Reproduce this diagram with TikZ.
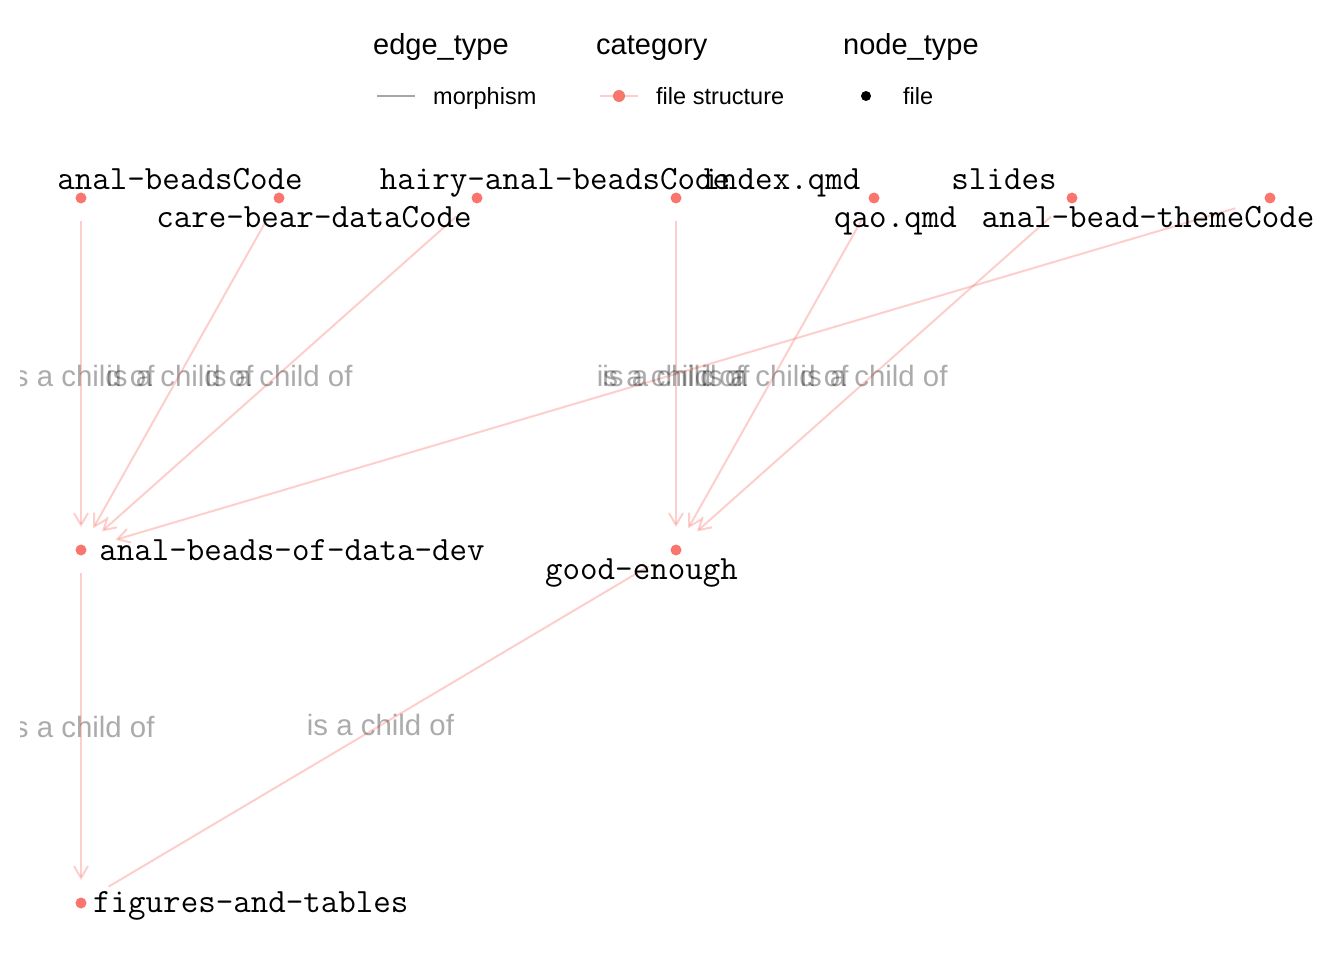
\documentclass[tikz,border=0pt]{standalone}
\usepackage{fontspec}
\setmainfont{Liberation Sans}
\usetikzlibrary{arrows.meta}
\definecolor{salmon}{HTML}{F8766D}
\begin{document}
\begin{tikzpicture}[x=1pt,y=-1pt,
  dot/.style={circle,fill=salmon,inner sep=0pt,minimum size=11pt},
  nlabel/.style={font=\ttfamily\fontsize{34}{40}\selectfont,inner sep=0pt,anchor=base},
  edge/.style={draw=salmon,draw opacity=0.35,line width=2pt,-{Straight Barb[length=12pt,width=14pt]}},
  elabel/.style={font=\fontsize{29.4}{35}\selectfont,text=black,text opacity=0.33,inner sep=0pt,anchor=base},
  ltitle/.style={font=\fontsize{29}{34}\selectfont,anchor=base west,inner sep=0pt},
  litem/.style={font=\fontsize{23.5}{28}\selectfont,anchor=base west,inner sep=0pt}]
\useasboundingbox (0,0) rectangle (1344,960);

% legend
\node[ltitle] (t1) at (373,55) {edge\_type};
\node[ltitle] (t2) at (596,55) {category};
\node[ltitle] (t3) at (843,55) {node\_type};
\coordinate (k1a) at (377,96);
\coordinate (k1b) at (415,96);
\draw[black!35,line width=2.5pt] (k1a) -- (k1b);
\node[litem] (i1) at (433,105) {morphism};
\coordinate (k2a) at (600,96);
\coordinate (k2b) at (638,96);
\draw[salmon,draw opacity=0.35,line width=2.5pt] (k2a) -- (k2b);
\node[dot,minimum size=12pt] (k2dot) at (619,96) {};
\node[circle,fill=black,inner sep=0pt,minimum size=10pt] (k3dot) at (866,96) {};
\node[litem] (i2) at (656,105) {file structure};
\node[litem] (i3) at (903,105) {file};

% dots
\node[dot] (abc) at (81,198) {};
\node[dot] (cbd) at (279,198) {};
\node[dot] (hab) at (477,198) {};
\node[dot] (idx) at (676,198) {};
\node[dot] (qao) at (874,198) {};
\node[dot] (sld) at (1072,198) {};
\node[dot] (abt) at (1270,198) {};
\node[dot] (dev) at (81,550) {};
\node[dot] (good) at (676,550) {};
\node[dot] (fig) at (81,903) {};

% edges
\begin{scope}
\clip (20,0) rectangle (1344,960);
\draw[edge,shorten <=23pt,shorten >=23pt] (abc.center) -- node[elabel,yshift=-12pt]{is a child of} (dev.center);
\draw[edge,shorten <=25pt,shorten >=25pt] (cbd.center) -- node[elabel,yshift=-12pt]{is a child of} (dev.center);
\draw[edge,shorten <=28pt,shorten >=28pt] (hab.center) -- node[elabel,yshift=-12pt]{is a child of} (dev.center);
\draw[edge,shorten <=36pt,shorten >=36pt] (abt.center) -- node[elabel,yshift=-12pt,xshift=-5pt]{is a child of} (dev.center);
\draw[edge,shorten <=23pt,shorten >=23pt] (idx.center) -- node[elabel,yshift=-12pt]{is a child of} (good.center);
\draw[edge,shorten <=25pt,shorten >=25pt] (qao.center) -- node[elabel,yshift=-12pt]{is a child of} (good.center);
\draw[edge,shorten <=28pt,shorten >=28pt] (sld.center) -- node[elabel,yshift=-12pt]{is a child of} (good.center);
\draw[edge,shorten <=23pt,shorten >=23pt] (dev.center) -- node[elabel,yshift=-11pt]{is a child of} (fig.center);
\draw[edge,-,shorten <=32pt,shorten >=32pt] (good.center) -- node[elabel,yshift=-9pt,xshift=2pt]{is a child of} (fig.center);
\end{scope}

% node labels
\node[nlabel] (abcL) at (180,190) {anal-beadsCode};
\node[nlabel] (cbdL) at (314,228) {care-bear-dataCode};
\node[nlabel] (habL) at (555,190) {hairy-anal-beadsCode};
\node[nlabel] (idxL) at (781.5,190) {index.qmd};
\node[nlabel] (qaoL) at (895.5,228) {qao.qmd};
\node[nlabel] (sldL) at (1004,190) {slides};
\node[nlabel] (abtL) at (1148,228) {anal-bead-themeCode};
\node[nlabel] (devL) at (292,560) {anal-beads-of-data-dev};
\node[nlabel] (goodL) at (641.5,579) {good-enough};
\node[nlabel,anchor=base west] (figL) at (93,912) {figures-and-tables};
\end{tikzpicture}
\end{document}
